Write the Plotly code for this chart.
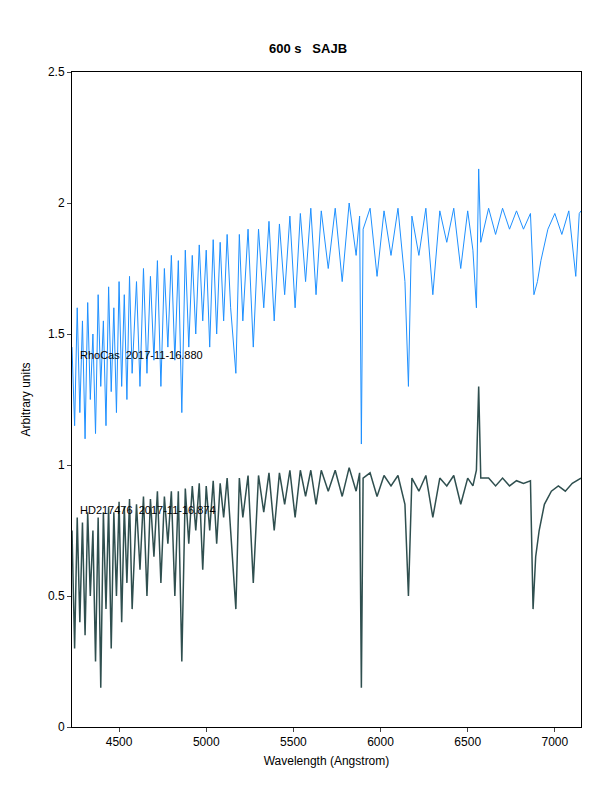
import plotly.graph_objects as go

# RhoCas spectrum (sampled by eye)
rho_wl = [4230, 4245, 4260, 4275, 4290, 4305, 4320, 4335, 4350, 4365, 4380, 4395, 4410, 4425, 4440, 4455,
          4470, 4485, 4500, 4515, 4530, 4545, 4560, 4575, 4600, 4620, 4640, 4660, 4680, 4700, 4720, 4740,
          4760, 4780, 4800, 4820, 4840, 4860, 4880, 4900, 4920, 4940, 4960, 4980, 5000, 5020, 5040, 5060,
          5080, 5100, 5120, 5140, 5170, 5190, 5210, 5240, 5270, 5300, 5330, 5360, 5390, 5420, 5450, 5480,
          5510, 5540, 5570, 5600, 5630, 5660, 5700, 5740, 5780, 5820, 5860, 5880, 5890, 5900, 5940, 5980,
          6020, 6060, 6100, 6140, 6160, 6180, 6220, 6260, 6300, 6340, 6380, 6420, 6460, 6500, 6530, 6550,
          6563, 6575, 6620, 6660, 6700, 6740, 6780, 6820, 6860, 6880, 6900, 6920, 6960, 7000, 7040, 7080,
          7120, 7140, 7150]
rho_flux = [1.45, 1.15, 1.6, 1.2, 1.55, 1.1, 1.62, 1.25, 1.5, 1.12, 1.65, 1.3, 1.55, 1.15, 1.68, 1.28,
            1.6, 1.2, 1.7, 1.3, 1.65, 1.25, 1.72, 1.35, 1.7, 1.3, 1.75, 1.35, 1.72, 1.4, 1.78, 1.3,
            1.75, 1.45, 1.8, 1.4, 1.78, 1.2, 1.82, 1.45, 1.8, 1.5, 1.84, 1.55, 1.82, 1.45, 1.86, 1.5,
            1.85, 1.55, 1.88, 1.6, 1.35, 1.88, 1.55, 1.9, 1.45, 1.9, 1.6, 1.93, 1.55, 1.92, 1.65, 1.95,
            1.6, 1.96, 1.7, 1.98, 1.65, 1.97, 1.75, 1.98, 1.7, 2.0, 1.8, 1.95, 1.08, 1.9, 1.98, 1.72,
            1.97, 1.8, 1.98, 1.7, 1.3, 1.95, 1.8, 1.98, 1.65, 1.97, 1.85, 1.98, 1.75, 1.97, 1.82, 1.6,
            2.13, 1.85, 1.98, 1.88, 1.98, 1.9, 1.97, 1.9, 1.96, 1.65, 1.7, 1.78, 1.9, 1.96, 1.88, 1.97,
            1.72, 1.96, 1.97]

# HD217476 spectrum (sampled by eye)
hd_wl = [4230, 4245, 4260, 4275, 4290, 4305, 4320, 4335, 4350, 4365, 4380, 4395, 4410, 4425, 4440, 4455,
         4470, 4485, 4500, 4515, 4530, 4545, 4560, 4575, 4600, 4620, 4640, 4660, 4680, 4700, 4720, 4740,
         4760, 4780, 4800, 4820, 4840, 4860, 4880, 4900, 4920, 4940, 4960, 4980, 5000, 5020, 5040, 5060,
         5080, 5100, 5120, 5140, 5170, 5190, 5210, 5240, 5270, 5300, 5330, 5360, 5390, 5420, 5450, 5480,
         5510, 5540, 5570, 5600, 5630, 5660, 5700, 5740, 5780, 5820, 5860, 5880, 5890, 5900, 5940, 5980,
         6020, 6060, 6100, 6140, 6160, 6180, 6220, 6260, 6300, 6340, 6380, 6420, 6460, 6500, 6530, 6550,
         6563, 6575, 6620, 6660, 6700, 6740, 6780, 6820, 6860, 6875, 6890, 6910, 6940, 6980, 7020, 7060,
         7100, 7150]
hd_flux = [0.75, 0.3, 0.8, 0.4, 0.78, 0.35, 0.82, 0.5, 0.75, 0.25, 0.8, 0.15, 0.82, 0.45, 0.84, 0.3,
           0.82, 0.5, 0.86, 0.4, 0.84, 0.55, 0.87, 0.45, 0.85, 0.6, 0.88, 0.5, 0.87, 0.65, 0.9, 0.55,
           0.88, 0.7, 0.9, 0.5, 0.9, 0.25, 0.91, 0.7, 0.92, 0.75, 0.93, 0.6, 0.92, 0.75, 0.94, 0.7,
           0.93, 0.8, 0.95, 0.75, 0.45, 0.95, 0.8, 0.96, 0.55, 0.96, 0.82, 0.97, 0.75, 0.97, 0.85, 0.98,
           0.8, 0.98, 0.88, 0.98, 0.85, 0.98, 0.9, 0.98, 0.88, 0.99, 0.9, 0.97, 0.15, 0.95, 0.97, 0.88,
           0.96, 0.92, 0.96, 0.85, 0.5, 0.95, 0.9, 0.96, 0.8, 0.95, 0.92, 0.96, 0.85, 0.95, 0.92, 0.98,
           1.3, 0.95, 0.95, 0.92, 0.95, 0.92, 0.94, 0.93, 0.94, 0.45, 0.65, 0.75, 0.85, 0.9, 0.92, 0.9,
           0.93, 0.95]

labels = ["RhoCas  2017-11-16.880", "HD217476  2017-11-16.874"]
label_y = [1.42, 0.83]

fig = go.Figure()
fig.add_trace(go.Scatter(x=rho_wl, y=rho_flux, mode="lines", line=dict(color="#1E90FF", width=1)))
fig.add_trace(go.Scatter(x=hd_wl, y=hd_flux, mode="lines", line=dict(color="#2F4F4F", width=1.5)))

for txt, yv in zip(labels, label_y):
    fig.add_annotation(x=4265, y=yv, text=txt, showarrow=False, xanchor="left",
                       font=dict(size=11, color="black"))

fig.update_layout(
    width=600, height=800,
    margin=dict(l=64, r=27, t=64, b=81),
    paper_bgcolor="white", plot_bgcolor="white",
    showlegend=False,
    font=dict(family="Liberation Sans, Arial", size=12, color="black"),
    title=dict(text="<b>600 s   SAJB</b>", x=0.5, y=0.955, xanchor="center", font=dict(size=13)),
)
fig.update_xaxes(range=[4230, 7150], tickvals=[4500, 5000, 5500, 6000, 6500, 7000],
                 showgrid=False, zeroline=False, showline=True, linecolor="black", mirror=True,
                 ticks="outside", ticklen=4,
                 title=dict(text="Wavelength (Angstrom)", standoff=8, font=dict(size=12)))
fig.update_yaxes(range=[0, 2.5], tickvals=[0, 0.5, 1, 1.5, 2, 2.5],
                 showgrid=False, zeroline=False, showline=True, linecolor="black", mirror=True,
                 ticks="outside", ticklen=4,
                 title=dict(text="Arbitrary units", standoff=14, font=dict(size=12)))

fig.write_html("out.html")
